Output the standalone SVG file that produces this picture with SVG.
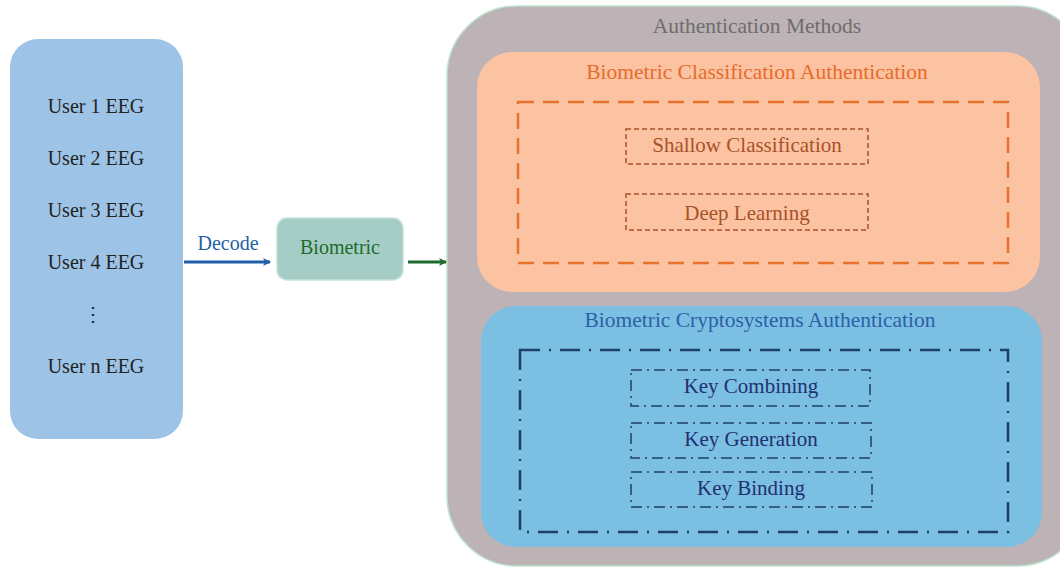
<svg xmlns="http://www.w3.org/2000/svg" width="1060" height="569" viewBox="0 0 1060 569">
<defs>
<marker id="ahBlue" markerWidth="8" markerHeight="8" refX="7" refY="4" orient="auto" markerUnits="userSpaceOnUse"><path d="M0,0 L8,4 L0,8 L2,4 Z" fill="#1f5fa6"/></marker>
<marker id="ahGreen" markerWidth="8" markerHeight="8" refX="7" refY="4" orient="auto" markerUnits="userSpaceOnUse"><path d="M0,0 L8,4 L0,8 L2,4 Z" fill="#1e6b2e"/></marker>
</defs>
<style>
text{font-family:"Liberation Serif","DejaVu Serif",serif;font-size:20px;text-anchor:middle}
.title{font-size:21.5px}
.box{font-size:21px}
.user{fill:#222}
.inner1{fill:none;stroke:#a8522a;stroke-width:1.5;stroke-dasharray:5 3}
.inner2{fill:none;stroke:#1f3f6c;stroke-width:1.5;stroke-dasharray:11 5 2 5}
.t1{fill:#a8522a}
.t2{fill:#1f3070}
</style>
<rect width="1060" height="569" fill="#ffffff"/>
<g id="users">
<rect x="10" y="39" width="173" height="400" rx="28" fill="#9dc3e6"/>
<text class="user" x="96" y="113">User 1 EEG</text>
<text class="user" x="96" y="165">User 2 EEG</text>
<text class="user" x="96" y="217">User 3 EEG</text>
<text class="user" x="96" y="269">User 4 EEG</text>
<text class="user" x="93" y="321">⋮</text>
<text class="user" x="96" y="373">User n EEG</text>
</g>
<g id="biometric">
<rect x="277" y="218" width="126" height="62" rx="10" fill="#a5cdc6" stroke="#c5e3dc" stroke-width="1.5"/>
<text x="340" y="254" fill="#1e6b2e">Biometric</text>
</g>
<g id="methods">
<rect x="447" y="6" width="640" height="560" rx="70" fill="#bdb2b5" stroke="#bde3cc" stroke-width="1.5"/>
<text class="title" x="757" y="33" fill="#6d6d6d">Authentication Methods</text>
</g>
<g id="classification">
<rect x="477" y="52" width="563" height="240" rx="35" fill="#fbc3a2"/>
<text class="title" x="757" y="79" fill="#e86b2a">Biometric Classification Authentication</text>
<rect x="518" y="102" width="490" height="161" fill="none" stroke="#e8712c" stroke-width="2.5" stroke-dasharray="16 9"/>
</g>
<g id="shallow">
<rect class="inner1" x="626" y="129" width="242" height="35"/>
<text class="t1 box" x="747" y="152">Shallow Classification</text>
</g>
<g id="deep">
<rect class="inner1" x="626" y="194" width="242" height="36"/>
<text class="t1 box" x="747" y="220">Deep Learning</text>
</g>
<g id="crypto">
<rect x="481" y="306" width="561" height="241" rx="35" fill="#7bbfe3"/>
<text class="title" x="760" y="327" fill="#2d5fa6">Biometric Cryptosystems Authentication</text>
<rect x="520" y="350" width="488" height="182" fill="none" stroke="#1f3f6c" stroke-width="2.5" stroke-dasharray="20 9 2 9"/>
</g>
<g id="combining">
<rect class="inner2" x="631" y="370" width="239" height="36"/>
<text class="t2 box" x="751" y="393">Key Combining</text>
</g>
<g id="generation">
<rect class="inner2" x="631" y="423" width="240" height="35"/>
<text class="t2 box" x="751" y="446">Key Generation</text>
</g>
<g id="binding">
<rect class="inner2" x="631" y="472" width="241" height="35"/>
<text class="t2 box" x="751" y="495">Key Binding</text>
</g>
<g id="connectors">
<line x1="184" y1="262" x2="270" y2="262" stroke="#1f5fa6" stroke-width="3" marker-end="url(#ahBlue)"/>
<text x="228" y="250" fill="#1f5fa6">Decode</text>
<line x1="408" y1="262" x2="446" y2="262" stroke="#1e6b2e" stroke-width="3" marker-end="url(#ahGreen)"/>
</g>
</svg>
